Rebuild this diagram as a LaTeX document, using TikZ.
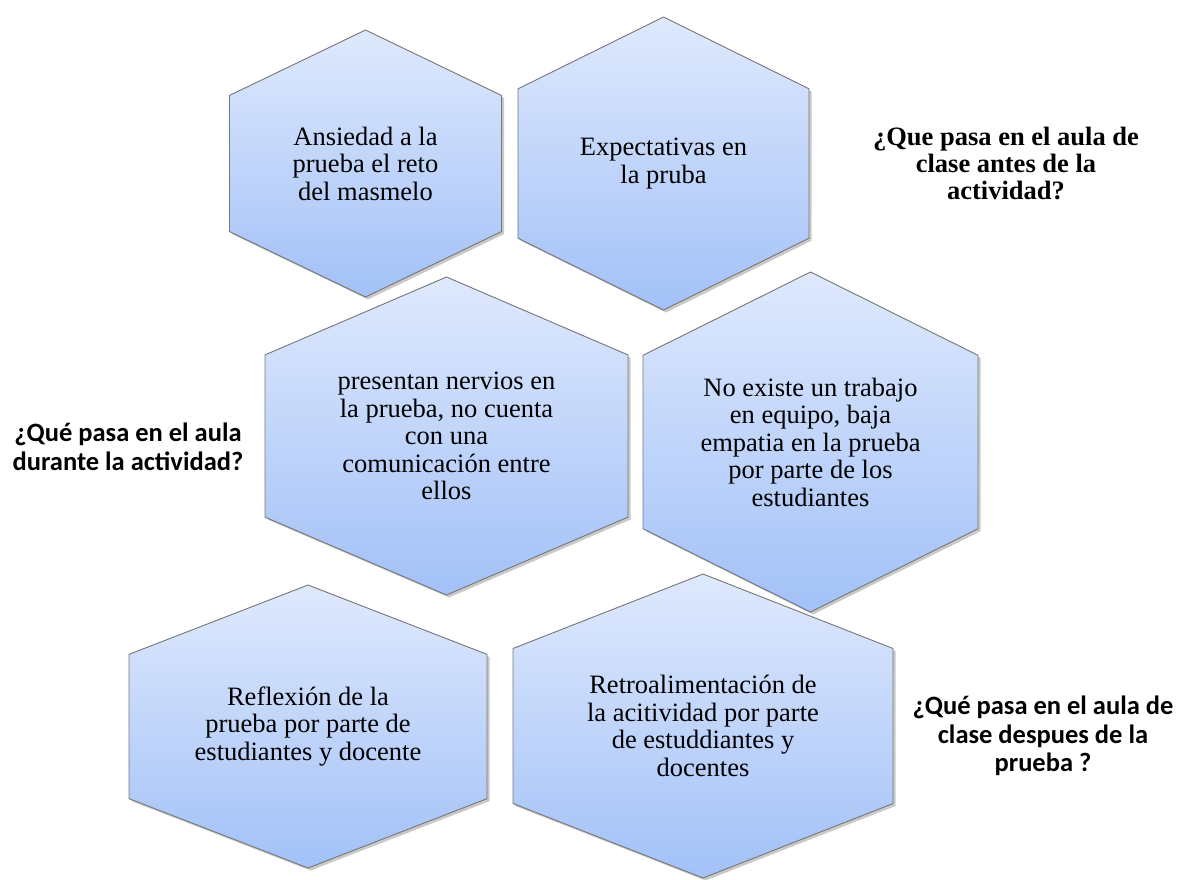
\documentclass[tikz,border=0pt]{standalone}
\usepackage{fontspec}
\setmainfont{Liberation Serif}
\newfontfamily\calib{Carlito}
\usepackage{tikz}
\usetikzlibrary{positioning, calc, shadows}

\definecolor{hextop}{RGB}{223,233,253}
\definecolor{hexbot}{RGB}{162,193,247}
\definecolor{hexline}{RGB}{118,118,118}

\begin{document}
\begin{tikzpicture}[x=1pt, y=1pt,
  hexcell/.style={draw=hexline, line width=0.9pt, line join=miter,
    top color=hextop, bottom color=hexbot,
    drop shadow={shadow xshift=2.5pt, shadow yshift=-2.5pt, opacity=0.3, fill=black!70}},
  celltext/.style={align=center, inner sep=0pt, font=\fontsize{26.5}{27.5}\selectfont},
  qserif/.style={align=center, inner sep=0pt, font=\fontsize{26.5}{27}\selectfont\bfseries},
  qsans/.style={align=center, inner sep=0pt, font=\fontsize{26.5}{28.5}\selectfont\calib\bfseries}]
\useasboundingbox (0,0) rectangle (1178,-879);
% hexagons: name/centre x/top/bottom/half width/text
\foreach \n/\cx/\ty/\by/\hw/\txt in {
  1/365.5/30/297/136/{Ansiedad a la\\prueba el reto\\del masmelo},
  2/663.5/17/310/145.5/{Expectativas en\\la pruba},
  3/446.5/277/595/181.5/{presentan nervios en\\la prueba, no cuenta\\con una\\comunicación entre\\ellos},
  4/810.5/272/612/167.5/{No existe un trabajo\\en equipo, baja\\empatia en la prueba\\por parte de los\\estudiantes},
  5/308/585/868/179/{Reflexión de la\\prueba por parte de\\estudiantes y docente},
  6/703/574/878/190/{Retroalimentación de\\la acitividad por parte\\de estuddiantes y\\docentes}} {
  \pgfmathsetmacro{\off}{0.245*(\by-\ty)}
  \path[hexcell] (\cx,-\ty) -- ({\cx+\hw},{-\ty-\off}) -- ({\cx+\hw},{-\by+\off})
    -- (\cx,-\by) -- ({\cx-\hw},{-\by+\off}) -- ({\cx-\hw},{-\ty-\off}) -- cycle;
  \node[celltext] (h\n) at (\cx,{-(\ty+\by)/2}) {\txt};
}
% questions
\node[qserif] (qantes) at (1006,-163) {¿Que pasa en el aula de\\clase antes de la\\actividad?};
\node[qsans] (qdurante) at (128,-447) {¿Qué pasa en el aula\\durante la actividad?};
\node[qsans] (qdespues) at (1043,-736) {¿Qué pasa en el aula de\\clase despues de la\\prueba ?};
\end{tikzpicture}
\end{document}
